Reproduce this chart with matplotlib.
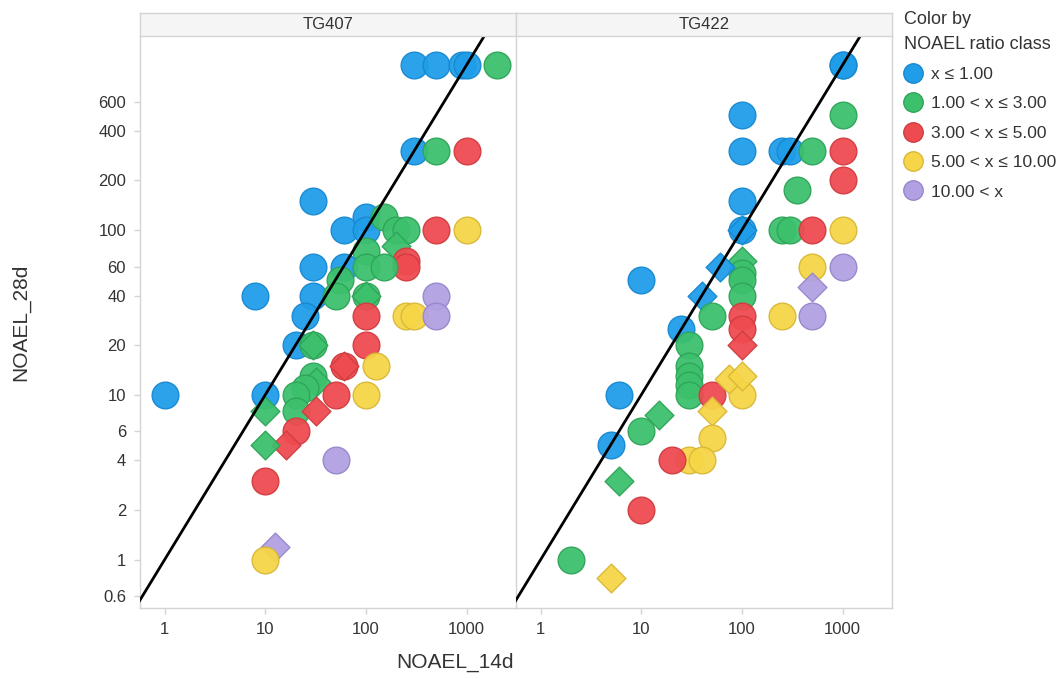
import matplotlib
matplotlib.use('Agg')
import matplotlib.pyplot as plt
from matplotlib.lines import Line2D

plt.rcParams['font.family'] = ['Liberation Sans', 'DejaVu Sans']

# ---------------- data ----------------
panels = ['TG407', 'TG422']
class_labels = ['x \u2264 1.00', '1.00 < x \u2264 3.00', '3.00 < x \u2264 5.00',
                '5.00 < x \u2264 10.00', '10.00 < x']
class_colors = ['#1f9de9', '#3cc06c', '#ee4b50', '#f6d547', '#b1a0e2']
class_edges = ['#1788d0', '#2fa459', '#d03c40', '#d8b836', '#9887cc']

x_ticks = [1, 10, 100, 1000]
y_ticks = [0.6, 1, 2, 4, 6, 10, 20, 40, 60, 100, 200, 400, 600]

# TG407 panel
tg407_x14 = [300, 500, 900, 1000, 2000, 300, 500, 1000, 30, 60, 100, 100, 150, 200, 250,
             500, 1000, 200, 100, 250, 250, 30, 60, 100, 150, 8, 30, 55, 50, 100, 100,
             500, 250, 300, 500, 100, 25, 20, 30, 30, 100, 60, 60, 125, 30, 32, 25, 20,
             1, 10, 50, 100, 10, 20, 32, 20, 16, 10, 50, 10, 12.5, 10]
tg407_x28 = [1000, 1000, 1000, 1000, 1000, 300, 300, 300, 150, 100, 120, 100, 120, 100, 100,
             100, 100, 80, 75, 65, 60, 60, 60, 60, 60, 40, 40, 50, 40, 40, 40,
             40, 30, 30, 30, 30, 30, 20, 20, 20, 20, 15, 15, 15, 13, 12, 11, 10,
             10, 10, 10, 10, 8, 8, 8, 6, 5, 5, 4, 3, 1.2, 1]
tg407_cls = [0, 0, 0, 0, 1, 0, 1, 2, 0, 0, 0, 0, 1, 1, 1,
             2, 3, 1, 1, 2, 2, 0, 0, 1, 1, 0, 0, 1, 1, 1, 1,
             4, 3, 3, 4, 2, 0, 0, 1, 1, 2, 2, 2, 3, 1, 1, 1, 1,
             0, 0, 2, 3, 1, 1, 2, 2, 2, 1, 4, 2, 4, 3]
tg407_shape = ['c', 'c', 'c', 'c', 'c', 'c', 'c', 'c', 'c', 'c', 'c', 'c', 'c', 'c', 'c',
               'c', 'c', 'd', 'c', 'c', 'c', 'c', 'c', 'c', 'c', 'c', 'c', 'c', 'c', 'c', 'd',
               'c', 'c', 'c', 'c', 'c', 'c', 'c', 'c', 'd', 'c', 'c', 'd', 'c', 'c', 'd', 'c', 'c',
               'c', 'c', 'c', 'c', 'd', 'c', 'd', 'c', 'd', 'd', 'c', 'c', 'd', 'c']

# TG422 panel
tg422_x14 = [1000, 1000, 1000, 100, 100, 250, 300, 500, 1000, 1000, 350, 100, 100, 100,
             250, 300, 500, 1000, 500, 1000, 100, 100, 100, 100, 60, 40, 10, 500,
             50, 100, 100, 100, 250, 500, 25, 30, 30, 30, 30, 30, 50, 100, 75, 100, 50,
             6, 15, 10, 5, 50, 30, 40, 20, 6, 10, 2, 5]
tg422_x28 = [1000, 1000, 500, 500, 300, 300, 300, 300, 300, 200, 175, 150, 100, 100,
             100, 100, 100, 100, 60, 60, 65, 55, 50, 40, 60, 40, 50, 45,
             30, 30, 25, 20, 30, 30, 25, 20, 15, 13, 11.5, 10, 10, 10, 12.5, 13, 8,
             10, 7.5, 6, 5, 5.5, 4, 4, 4, 3, 2, 1, 0.78]
tg422_cls = [0, 0, 1, 0, 0, 0, 0, 1, 2, 2, 1, 0, 0, 0,
             1, 1, 2, 3, 3, 4, 1, 1, 1, 1, 0, 0, 0, 4,
             1, 2, 2, 2, 3, 4, 0, 1, 1, 1, 1, 1, 2, 3, 3, 3, 3,
             0, 1, 1, 0, 3, 3, 3, 2, 1, 2, 1, 3]
tg422_shape = ['c', 'c', 'c', 'c', 'c', 'c', 'c', 'c', 'c', 'c', 'c', 'c', 'c', 'd',
               'c', 'c', 'c', 'c', 'c', 'c', 'd', 'c', 'c', 'c', 'd', 'd', 'c', 'd',
               'c', 'c', 'c', 'd', 'c', 'c', 'c', 'c', 'c', 'c', 'c', 'c', 'c', 'c', 'd', 'd', 'd',
               'c', 'd', 'c', 'c', 'c', 'c', 'c', 'c', 'd', 'c', 'c', 'd']

panel_data = [(tg407_x14, tg407_x28, tg407_cls, tg407_shape),
              (tg422_x14, tg422_x28, tg422_cls, tg422_shape)]

# ---------------- layout ----------------
W, H = 1063, 679
fig = plt.figure(figsize=(W / 100, H / 100), dpi=100)

def fx(px):
    return px / W

def fy(py):
    return 1 - py / H

plot_top, plot_bot = 36, 608
strip_top = 13
panel_lefts = [140, 516]
panel_w = 376
grey = '#d4d4d4'
txt = '#333333'
xlim = (0.57, 3100)
ylim = (0.51, 1500)

circle_s = 370
diamond_s = 215

for i, (name, (xs, ys, cls, shp)) in enumerate(zip(panels, panel_data)):
    ax = fig.add_axes([fx(panel_lefts[i]), fy(plot_bot), fx(panel_w),
                       (plot_bot - plot_top) / H])
    ax.set_xscale('log')
    ax.set_yscale('log')
    # reference line y = x
    ax.plot([0.1, 1e5], [0.1, 1e5], color='black', lw=2.0, zorder=3)
    for xv, yv, c, s in zip(xs, ys, cls, shp):
        ax.scatter([xv], [yv], s=circle_s if s == 'c' else diamond_s,
                   marker='o' if s == 'c' else 'D',
                   facecolor=class_colors[c], edgecolor=class_edges[c],
                   linewidth=1.0, alpha=0.95, zorder=2)
    ax.set_xlim(*xlim)
    ax.set_ylim(*ylim)
    ax.set_xticks(x_ticks)
    ax.set_xticklabels([str(v) for v in x_ticks])
    ax.minorticks_off()
    ax.tick_params(axis='both', colors=grey, labelcolor=txt, labelsize=12,
                   length=4, width=1, pad=6)
    if i == 0:
        ax.set_yticks(y_ticks)
        ax.set_yticklabels([('%g' % v) for v in y_ticks])
        ax.minorticks_off()
    else:
        ax.set_yticks([])
    for sp in ax.spines.values():
        sp.set_color(grey)
        sp.set_linewidth(1)
    ax.spines['top'].set_visible(False)
    if i == 0:
        ax.spines['right'].set_visible(False)

    # header strip
    hx = fig.add_axes([fx(panel_lefts[i]), fy(plot_top), fx(panel_w),
                       (plot_top - strip_top) / H])
    hx.set_facecolor('#f5f5f5')
    hx.set_xticks([])
    hx.set_yticks([])
    for sp in hx.spines.values():
        sp.set_color(grey)
        sp.set_linewidth(1)
    hx.text(0.5, 0.5, name, ha='center', va='center', fontsize=12, color=txt,
            transform=hx.transAxes)

fig.text(fx(455), fy(662), 'NOAEL_14d', ha='center', va='center', fontsize=15, color=txt)
fig.text(fx(21), fy(322), 'NOAEL_28d', ha='center', va='center', rotation=90,
         fontsize=15, color=txt)

handles = [Line2D([], [], ls='', marker='o', markersize=14, markerfacecolor=c,
                  markeredgecolor=e, markeredgewidth=1)
           for c, e in zip(class_colors, class_edges)]
leg = fig.legend(handles, class_labels, loc='upper left',
                 bbox_to_anchor=(fx(901), fy(8)), frameon=False, fontsize=12.5,
                 title='Color by\nNOAEL ratio class', title_fontsize=13,
                 alignment='left', handlelength=1.0, handletextpad=0.55,
                 labelspacing=0.82, borderpad=0.2, borderaxespad=0)
for t in leg.get_texts():
    t.set_color(txt)
leg.get_title().set_color(txt)
leg.get_title().set_linespacing(1.55)
leg._legend_handle_box.sep = 14

fig.savefig('out.png', dpi=100)
